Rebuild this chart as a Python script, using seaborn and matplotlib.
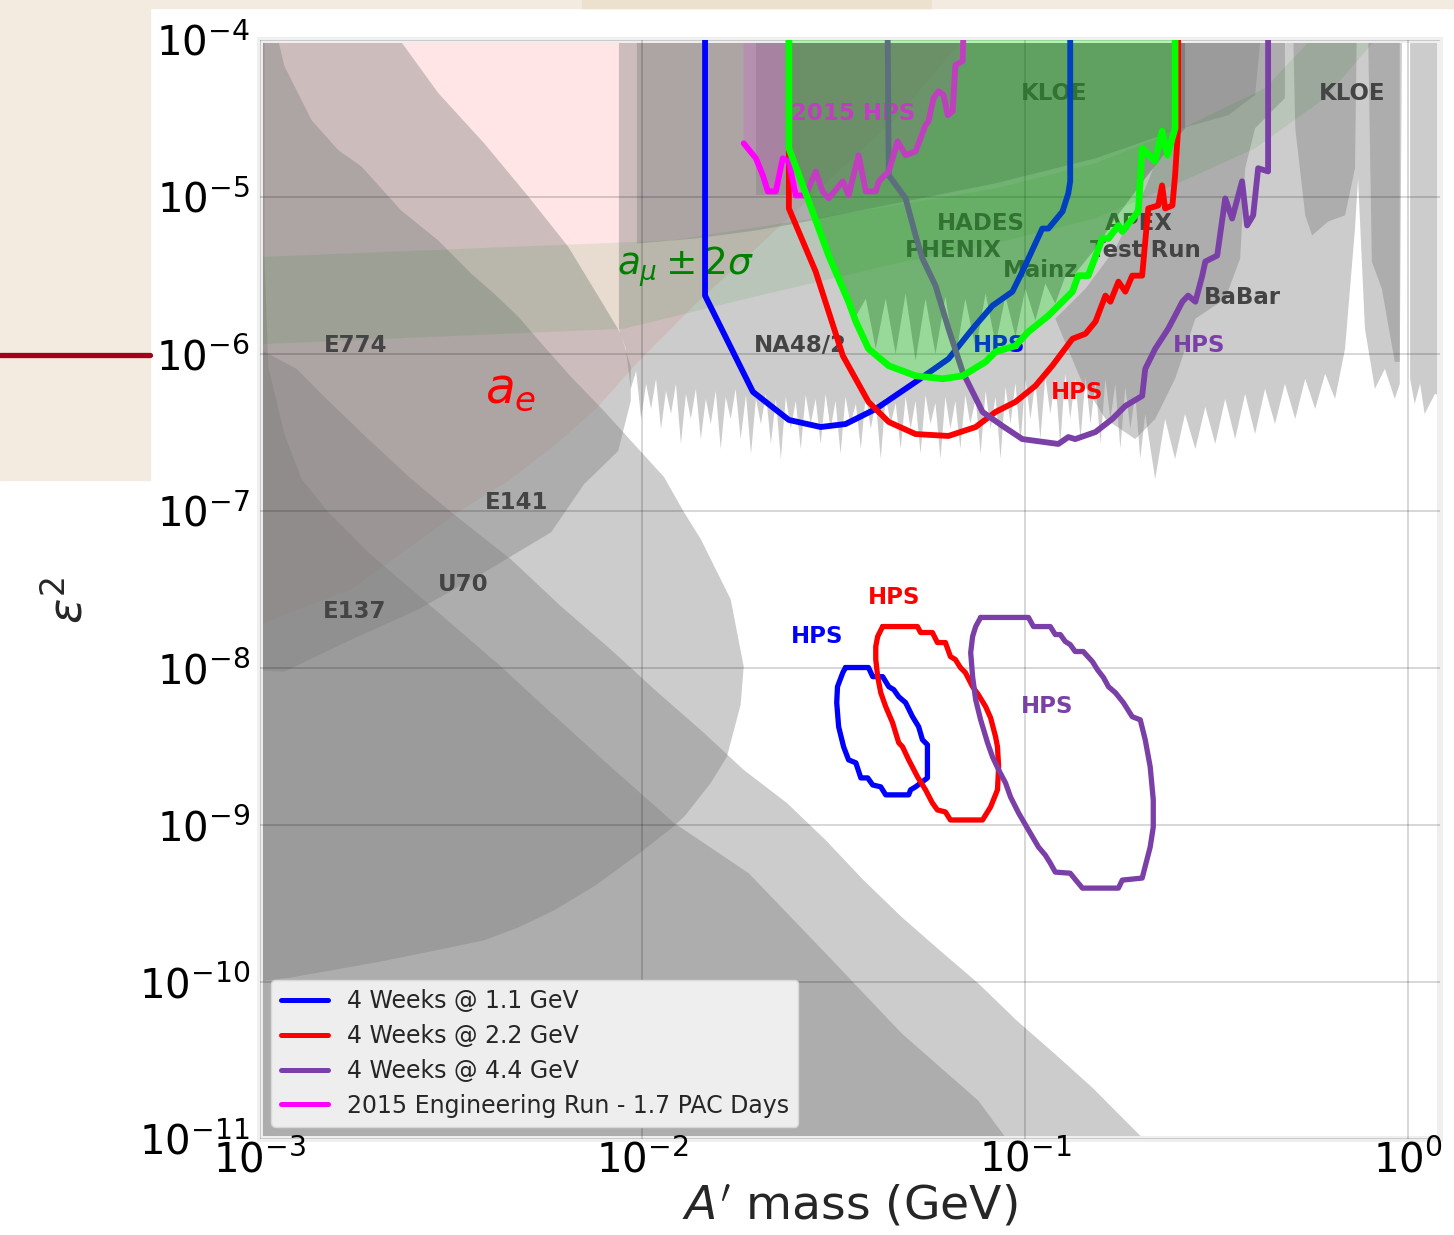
import numpy as np
import matplotlib
matplotlib.use("Agg")
import matplotlib.pyplot as plt
import seaborn as sns
from matplotlib.patches import Rectangle
from matplotlib.lines import Line2D
from matplotlib.ticker import LogLocator, NullLocator

# all values are log10(mass / GeV) and log10(eps^2)

# ---- HPS reach, 4 weeks @ 1.1 GeV (upper contour + lower island) ----
blue_m = [-1.836, -1.836, -1.711, -1.617, -1.534, -1.469, -1.390, -1.286, -1.200, -1.137,
          -1.085, -1.033, -1.007, -0.955, -0.939, -0.902, -0.887, -0.882, -0.882]
blue_e = [-3.95, -5.628, -6.241, -6.420, -6.465, -6.446, -6.350, -6.178, -6.031, -5.839,
          -5.692, -5.603, -5.475, -5.201, -5.201, -5.092, -4.977, -4.900, -3.95]
bloop_m = [-1.469, -1.409, -1.398, -1.372, -1.356, -1.343, -1.330, -1.312, -1.294, -1.278,
           -1.268, -1.255, -1.255, -1.286, -1.299, -1.304, -1.364, -1.377, -1.398, -1.411,
           -1.429, -1.442, -1.461, -1.474, -1.487, -1.492, -1.490, -1.476, -1.469]
bloop_e = [-7.997, -7.997, -8.055, -8.055, -8.119, -8.138, -8.183, -8.221, -8.310, -8.374,
           -8.457, -8.489, -8.700, -8.757, -8.776, -8.808, -8.808, -8.757, -8.745, -8.700,
           -8.700, -8.604, -8.585, -8.502, -8.374, -8.221, -8.119, -8.029, -7.997]

# ---- 4 weeks @ 2.2 GeV ----
red_m = [-1.617, -1.617, -1.547, -1.476, -1.409, -1.356, -1.286, -1.200, -1.129, -1.077,
         -1.025, -0.973, -0.929, -0.876, -0.842, -0.816, -0.790, -0.777, -0.756, -0.738,
         -0.720, -0.694, -0.686, -0.678, -0.652, -0.642, -0.634, -0.615, -0.608, -0.600, -0.600]
red_e = [-3.95, -5.073, -5.475, -6.011, -6.305, -6.433, -6.510, -6.522, -6.465, -6.369,
         -6.305, -6.203, -6.075, -5.903, -5.871, -5.794, -5.628, -5.667, -5.539, -5.603,
         -5.501, -5.501, -5.284, -5.073, -5.054, -4.926, -5.073, -5.054, -4.862, -4.562, -3.95]
rloop_m = [-1.372, -1.281, -1.273, -1.242, -1.229, -1.208, -1.195, -1.182, -1.169, -1.156,
           -1.137, -1.122, -1.103, -1.090, -1.077, -1.072, -1.069, -1.072, -1.090, -1.111,
           -1.195, -1.208, -1.229, -1.242, -1.260, -1.281, -1.304, -1.320, -1.330, -1.338,
           -1.346, -1.364, -1.377, -1.385, -1.390, -1.390, -1.385, -1.372]
rloop_e = [-7.736, -7.736, -7.774, -7.774, -7.838, -7.838, -7.927, -7.946, -7.997, -8.029,
           -8.119, -8.170, -8.246, -8.317, -8.438, -8.502, -8.630, -8.776, -8.885, -8.968,
           -8.968, -8.917, -8.904, -8.860, -8.776, -8.693, -8.585, -8.502, -8.476, -8.413,
           -8.349, -8.246, -8.157, -8.055, -7.946, -7.863, -7.799, -7.736]

# ---- 4 weeks @ 4.4 GeV ----
purple_m = [-1.359, -1.356, -1.312, -1.286, -1.268, -1.234, -1.200, -1.163, -1.111, -1.059,
            -1.007, -0.913, -0.887, -0.869, -0.816, -0.772, -0.738, -0.694, -0.686, -0.660,
            -0.626, -0.608, -0.589, -0.574, -0.555, -0.537, -0.529, -0.498, -0.477, -0.459,
            -0.433, -0.420, -0.404, -0.391, -0.365, -0.365]
purple_e = [-3.95, -4.862, -5.009, -5.245, -5.392, -5.564, -5.839, -6.114, -6.369, -6.458,
            -6.542, -6.573, -6.529, -6.542, -6.497, -6.414, -6.331, -6.267, -6.095, -5.967,
            -5.839, -5.756, -5.667, -5.628, -5.667, -5.501, -5.411, -5.373, -5.009, -5.137,
            -4.900, -5.181, -5.117, -4.817, -4.837, -3.95]
ploop_m = [-1.116, -0.991, -0.978, -0.934, -0.921, -0.908, -0.895, -0.882, -0.869, -0.848,
           -0.824, -0.811, -0.795, -0.782, -0.764, -0.743, -0.720, -0.699, -0.686, -0.673,
           -0.665, -0.665, -0.673, -0.694, -0.746, -0.756, -0.850, -0.863, -0.882, -0.921,
           -0.934, -0.947, -0.965, -0.991, -1.017, -1.038, -1.051, -1.069, -1.085, -1.098,
           -1.116, -1.129, -1.137, -1.142, -1.137, -1.129, -1.116]
ploop_e = [-7.678, -7.678, -7.736, -7.736, -7.787, -7.787, -7.831, -7.851, -7.895, -7.895,
           -7.959, -8.010, -8.061, -8.119, -8.157, -8.221, -8.310, -8.330, -8.457, -8.630,
           -8.840, -9.013, -9.140, -9.338, -9.351, -9.402, -9.402, -9.364, -9.307, -9.300,
           -9.243, -9.192, -9.140, -9.032, -8.923, -8.821, -8.732, -8.649, -8.566, -8.476,
           -8.330, -8.202, -8.055, -7.902, -7.799, -7.736, -7.678]

# ---- 2015 engineering run ----
eng_m = [-1.735, -1.703, -1.685, -1.672, -1.651, -1.633, -1.617, -1.599, -1.573, -1.547,
         -1.529, -1.513, -1.476, -1.461, -1.435, -1.416, -1.390, -1.382, -1.356, -1.333,
         -1.312, -1.286, -1.260, -1.252, -1.239, -1.226, -1.213, -1.202, -1.189, -1.182,
         -1.163, -1.161]
eng_e = [-4.658, -4.754, -4.862, -4.964, -4.964, -4.754, -4.773, -4.990, -4.990, -4.837,
         -4.964, -5.009, -4.900, -4.990, -4.734, -4.964, -4.964, -4.900, -4.837, -4.645,
         -4.734, -4.709, -4.543, -4.517, -4.370, -4.326, -4.351, -4.479, -4.453, -4.160,
         -4.134, -3.95]

# ---- green favoured region edge ----
lime_m = [-1.617, -1.617, -1.565, -1.513, -1.461, -1.442, -1.409, -1.356, -1.286, -1.215,
          -1.163, -1.103, -1.077, -1.025, -0.991, -0.939, -0.876, -0.861, -0.835, -0.798,
          -0.782, -0.756, -0.746, -0.704, -0.694, -0.660, -0.642, -0.628, -0.608, -0.608]
lime_e = [-3.95, -4.690, -5.028, -5.373, -5.667, -5.794, -5.967, -6.075, -6.139, -6.158,
          -6.139, -6.050, -5.986, -5.948, -5.858, -5.756, -5.603, -5.501, -5.501, -5.264,
          -5.264, -5.181, -5.220, -5.092, -4.690, -4.773, -4.581, -4.734, -4.562, -3.95]

# ---- existing limits (shaded) ----
ae_m = [-3.1, -2.760, -2.481, -2.343, -2.225, -2.121, -2.016, -1.860, -1.703, -1.521, -1.338, -1.129, -3.1]
ae_e = [-7.819, -7.499, -7.008, -6.797, -6.573, -6.350, -6.063, -5.679, -5.328, -4.913, -4.498, -3.9, -3.9]

amu_m = [-3.1, -1.925, -1.469, -1.077, -0.816, -0.589, -0.373, -0.216,
         -0.05, -0.216, -0.399, -0.589, -0.816, -1.077, -1.338, -1.729, -2.048, -3.1]
amu_e = [-5.392, -5.277, -5.105, -4.945, -4.785, -4.562, -4.307, -3.9,
         -3.9, -4.370, -4.690, -4.900, -5.137, -5.296, -5.424, -5.648, -5.839, -5.948]

e137_m = [-3.1, -2.987, -2.987, -2.977, -2.935, -2.890, -2.820, -2.716, -2.551, -2.369,
          -2.256, -2.082, -1.917, -1.722, -1.521, -1.322, -1.122, -1.048, -0.999, -3.1]
e137_e = [-3.9, -3.9, -5.392, -6.082, -6.510, -6.797, -7.008, -7.263, -7.608, -7.991,
          -8.246, -8.630, -8.987, -9.307, -9.817, -10.328, -10.756, -11.0, -11.14, -11.2]

u70_m = [-3.1, -2.903, -2.825, -2.716, -2.603, -2.499, -2.343, -2.212, -2.082, -1.959,
         -1.839, -1.735, -1.622, -1.521, -1.422, -1.322, -1.223, -1.122, -1.022, -0.923,
         -0.824, -0.704, -0.647, -3.1]
u70_e = [-5.839, -6.095, -6.286, -6.542, -6.797, -7.008, -7.308, -7.608, -7.883, -8.157,
         -8.413, -8.649, -8.860, -9.096, -9.351, -9.587, -9.798, -10.009, -10.245, -10.456,
         -10.673, -10.967, -11.107, -11.2]

e141_m = [-2.961, -2.935, -2.864, -2.794, -2.734, -2.630, -2.533, -2.447, -2.387, -2.324,
          -2.256, -2.186, -2.100, -2.022, -1.943, -1.891, -1.847, -1.769, -1.735, -1.743,
          -1.779, -1.821, -1.889, -1.920, -2.003, -2.121, -2.230, -2.322, -2.413, -2.538,
          -2.695, -2.917, -3.1, -3.1]
e141_e = [-3.9, -4.166, -4.511, -4.702, -4.805, -5.086, -5.277, -5.488, -5.616, -5.762,
          -5.954, -6.146, -6.363, -6.573, -6.784, -7.008, -7.180, -7.563, -7.991, -8.234,
          -8.566, -8.732, -8.943, -9.013, -9.172, -9.383, -9.543, -9.651, -9.734, -9.798,
          -9.875, -9.971, -10.028, -3.9]

e774_m = [-3.1, -2.663, -2.533, -2.413, -2.298, -2.194, -2.108, -2.056, -2.030, -2.030,
          -2.063, -2.152, -2.238, -2.413, -2.585, -2.760, -2.935, -3.1]
e774_e = [-3.9, -3.9, -4.338, -4.658, -4.996, -5.315, -5.660, -5.871, -6.082, -6.299,
          -6.618, -6.829, -7.135, -7.391, -7.627, -7.819, -8.023, -8.01]

top_m = [-2.014, -2.014, -1.860, -1.703, -1.599, -1.338, -1.077, -0.816, -0.589, -0.469, -0.399, -0.381]
top_e = [-3.9, -5.296, -5.264, -5.213, -5.169, -5.041, -4.913, -4.754, -4.562, -4.479, -4.351, -3.9]

kloe0_m = [-1.617, -1.617, -1.565, -1.513, -1.469, -1.442, -1.416, -1.390, -1.364, -1.338,
           -1.312, -1.286, -1.260, -1.234, -1.208, -1.182, -1.156, -1.129, -1.103, -1.077,
           -1.051, -1.025, -0.999, -0.973, -0.947, -0.921, -0.895, -0.869, -0.816, -0.764,
           -0.686, -0.582, -0.582]
kloe0_e = [-3.9, -4.690, -5.028, -5.373, -5.648, -5.762, -5.648, -5.967, -5.648, -6.000,
           -5.616, -6.043, -5.648, -6.000, -5.635, -6.031, -5.648, -5.967, -5.616, -5.935,
           -5.635, -5.890, -5.584, -5.788, -5.552, -5.679, -5.507, -5.488, -5.328, -5.137,
           -4.881, -4.562, -3.9]

strip_m = [-1.703, -1.703, -1.617, -1.617]
strip_e = [-3.9, -4.990, -4.990, -3.9]

apex_m = [-0.921, -0.842, -0.764, -0.686, -0.634, -0.595, -0.321, -0.321, -0.399, -0.425,
          -0.438, -0.477, -0.555, -0.608, -0.660, -0.712, -0.790, -0.855]
apex_e = [-5.775, -5.584, -5.328, -4.945, -4.626, -3.9, -3.9, -4.370, -4.562, -4.817,
          -5.392, -5.648, -5.775, -6.158, -6.414, -6.542, -6.414, -6.158]

kloe1_m = [-0.300, -0.294, -0.268, -0.250, -0.208, -0.164, -0.138, -0.133]
kloe1_e = [-3.9, -4.562, -5.117, -5.245, -5.156, -5.117, -4.817, -3.9]
kloe2_m = [-0.104, -0.094, -0.068, -0.034, -0.021, -0.015]
kloe2_e = [-3.9, -5.411, -5.584, -6.050, -6.050, -3.9]

# NA48/2 spiky lower edge (left part) and BaBar edge (right part)
na48_m = [-2.043, -2.030, -2.016, -2.003, -1.990, -1.977, -1.964, -1.951, -1.938, -1.925,
          -1.912, -1.899, -1.886, -1.873, -1.860, -1.847, -1.834, -1.821, -1.808, -1.795,
          -1.782, -1.769, -1.756, -1.743, -1.729, -1.716, -1.703, -1.690, -1.677, -1.664,
          -1.651, -1.638, -1.625, -1.612, -1.599, -1.586, -1.573, -1.560, -1.547, -1.534,
          -1.521, -1.508, -1.495, -1.482, -1.469, -1.456, -1.442, -1.429, -1.416, -1.403,
          -1.390, -1.377, -1.364, -1.351, -1.338, -1.325, -1.312, -1.299, -1.286, -1.273,
          -1.260, -1.247, -1.234, -1.221, -1.208, -1.195, -1.182, -1.169, -1.156, -1.143,
          -1.129, -1.116, -1.103, -1.090, -1.077, -1.064, -1.051, -1.038, -1.025, -1.012,
          -0.999, -0.986, -0.973, -0.960, -0.947, -0.934, -0.921, -0.908, -0.895, -0.882,
          -0.869, -0.855, -0.842, -0.829, -0.816, -0.803, -0.790, -0.777, -0.764, -0.751,
          -0.738, -0.725, -0.712, -0.699, -0.686]
na48_e = [-5.967, -6.222, -6.107, -6.414, -6.190, -6.350, -6.158, -6.478, -6.235, -6.382,
          -6.190, -6.573, -6.254, -6.414, -6.222, -6.542, -6.286, -6.446, -6.235, -6.605,
          -6.273, -6.414, -6.222, -6.542, -6.261, -6.637, -6.286, -6.446, -6.254, -6.573,
          -6.286, -6.669, -6.273, -6.478, -6.299, -6.605, -6.261, -6.446, -6.286, -6.573,
          -6.254, -6.478, -6.299, -6.637, -6.273, -6.446, -6.318, -6.605, -6.261, -6.478,
          -6.299, -6.669, -6.273, -6.446, -6.312, -6.605, -6.273, -6.478, -6.299, -6.637,
          -6.261, -6.446, -6.312, -6.669, -6.273, -6.478, -6.299, -6.605, -6.261, -6.446,
          -6.286, -6.637, -6.235, -6.478, -6.273, -6.669, -6.209, -6.446, -6.184, -6.573,
          -6.158, -6.414, -6.171, -6.542, -6.146, -6.382, -6.158, -6.573, -6.126, -6.414,
          -6.158, -6.542, -6.146, -6.446, -6.171, -6.573, -6.158, -6.414, -6.190, -6.605,
          -6.209, -6.478, -6.254, -6.669, -6.382]
babar_m = [-0.660, -0.634, -0.608, -0.582, -0.555, -0.529, -0.503, -0.477, -0.451, -0.425,
           -0.399, -0.373, -0.347, -0.321, -0.294, -0.268, -0.242, -0.216, -0.190, -0.164,
           -0.138, -0.130, -0.112, -0.086, -0.060, -0.034, -0.021, -0.021]
babar_e = [-6.797, -6.414, -6.669, -6.382, -6.605, -6.337, -6.573, -6.286, -6.542, -6.254,
           -6.510, -6.222, -6.446, -6.190, -6.414, -6.158, -6.350, -6.126, -6.286, -5.967,
           -5.201, -4.881, -5.839, -6.222, -6.095, -6.286, -6.190, -3.9]
spiky2_m = [0.006, 0.006, 0.018, 0.032, 0.044, 0.071, 0.12, 0.12]
spiky2_e = [-3.9, -6.158, -6.318, -6.190, -6.382, -6.254, -6.30, -3.9]

# ---- labels ----
gray_txt = ["E774", "E141", "U70", "E137", "NA48/2", "KLOE", "APEX", "Test Run", "BaBar",
            "KLOE", "HADES", "PHENIX", "Mainz"]
gray_txt_m = [-2.750, -2.327, -2.468, -2.752, -1.586, -0.146, -0.704, -0.686, -0.433,
              -0.923, -1.116, -1.187, -0.960]
gray_txt_e = [-5.948, -6.944, -7.467, -7.640, -5.948, -4.338, -5.169, -5.341, -5.641,
              -4.338, -5.169, -5.341, -5.469]
hps_txt_m = [-1.069, -0.545, -0.863, -1.341, -1.544, -0.942]
hps_txt_e = [-5.948, -5.948, -6.248, -7.551, -7.800, -8.246]
hps_txt_c = ["#0000ff", "#7b3fa8", "red", "red", "blue", "#7b3fa8"]

legend_labels = ["4 Weeks @ 1.1 GeV", "4 Weeks @ 2.2 GeV", "4 Weeks @ 4.4 GeV",
                 "2015 Engineering Run - 1.7 PAC Days"]

BLUE, RED, PURPLE, MAG, LIME = "#0000ff", "#ff0000", "#7b3fa8", "#ff00ff", "#00ff00"

sns.set_theme(style="whitegrid")
plt.rcParams['font.family'] = ['DejaVu Sans']
plt.rcParams['mathtext.fontset'] = 'dejavusans'

fig = plt.figure(figsize=(14.54, 12.35), dpi=100)
fig.patch.set_facecolor('white')
# slide background showing around the picture
fig.patches.append(Rectangle((0, 1 - 8 / 1235), 1, 8 / 1235, transform=fig.transFigure,
                             color='#f3ebdf', zorder=-5))
fig.patches.append(Rectangle((0.40, 1 - 8 / 1235), 0.24, 8 / 1235, transform=fig.transFigure,
                             color='#ebe1cc', zorder=-4))
fig.patches.append(Rectangle((0, 1 - 480 / 1235), 150 / 1454, 480 / 1235, transform=fig.transFigure,
                             color='#f3ebdf', zorder=-5))
fig.lines.append(Line2D([0, 150 / 1454], [1 - 355 / 1235] * 2, transform=fig.transFigure,
                        color='#a3001e', lw=3.8))

ax = fig.add_axes([259.5 / 1454, 1 - 1139 / 1235, 1180 / 1454, 1099 / 1235])
ax.set_facecolor('white')
ax.set_xscale('log')
ax.set_yscale('log')
ax.set_xlim(1e-3, 1.21)
ax.set_ylim(1e-11, 1e-4)


def L(v):
    return 10 ** np.asarray(v, dtype=float)


def shade(m, e, color='#808080', alpha=0.4, z=1):
    ax.fill(L(m), L(e), color=color, alpha=alpha, lw=0, zorder=z)


def curve(m, e, color, lw=4.2, z=3):
    sns.lineplot(x=L(m), y=L(e), sort=False, estimator=None, color=color,
                 linewidth=lw, ax=ax, zorder=z, legend=False)


# shaded limits
shade(ae_m, ae_e, color='red', alpha=0.1)
shade(e137_m, e137_e)
shade(u70_m, u70_e)
shade(e141_m, e141_e)
shade(e774_m, e774_e)
shade([-2.061, -2.061] + na48_m + babar_m, [-3.9, -5.839] + na48_e + babar_e)
shade(spiky2_m, spiky2_e)
shade(top_m, top_e)
shade(strip_m, strip_e)
shade(kloe0_m, kloe0_e, color='black', alpha=0.25)
shade(apex_m, apex_e)
shade(kloe1_m, kloe1_e)
shade(kloe2_m, kloe2_e)
shade(amu_m, amu_e, color='green', alpha=0.09)
shade(eng_m + [-1.735], eng_e + [-3.9], color=MAG, alpha=0.12, z=1.5)

# labels sit under the curves and under the green overlay
tkw = dict(ha='center', va='center', fontsize=16.5, fontweight='bold', zorder=2.8)
for t, m, e in zip(gray_txt, gray_txt_m, gray_txt_e):
    ax.text(10 ** m, 10 ** e, t, color='#444444', **tkw)
for m, e, c in zip(hps_txt_m, hps_txt_e, hps_txt_c):
    ax.text(10 ** m, 10 ** e, "HPS", color=c, **tkw)
ax.text(10 ** -1.448, 10 ** -4.466, "2015 HPS", color=MAG, **tkw)
ax.text(10 ** -2.345, 10 ** -6.222, r"$a_e$", color='red', fontsize=35,
        ha='center', va='center', zorder=2.8)
ax.text(10 ** -1.886, 10 ** -5.443, r"$a_\mu \pm 2\sigma$", color='green', fontsize=27,
        ha='center', va='center', zorder=2.8)

# HPS reach curves
curve(blue_m, blue_e, BLUE)
curve(bloop_m, bloop_e, BLUE, lw=3.8)
curve(red_m, red_e, RED)
curve(rloop_m, rloop_e, RED, lw=3.8)
curve(purple_m, purple_e, PURPLE)
curve(ploop_m, ploop_e, PURPLE, lw=3.8)
curve(eng_m, eng_e, MAG)

# green region laid over the curves, then its bright edge
shade(lime_m, lime_e, color=LIME, alpha=0.25, z=4)
curve(lime_m, lime_e, LIME, lw=4.8, z=5)

# axes cosmetics
ax.xaxis.set_major_locator(LogLocator(base=10, numticks=20))
ax.yaxis.set_major_locator(LogLocator(base=10, numticks=20))
ax.xaxis.set_minor_locator(NullLocator())
ax.yaxis.set_minor_locator(NullLocator())
ax.set_axisbelow(False)
ax.grid(True, which='major', color='black', alpha=0.2, linewidth=1.1)
for sp in ax.spines.values():
    sp.set_color('#efefef')
    sp.set_linewidth(4.3)
ax.tick_params(axis='both', which='both', length=0, labelsize=29, colors='black')
ax.tick_params(axis='y', pad=7)
ax.tick_params(axis='x', pad=1)
ax.set_xlabel(r"$A'$ mass (GeV)", fontsize=34, labelpad=2)
ax.set_ylabel(r"$\epsilon^2$", fontsize=34)
ax.yaxis.set_label_coords(-0.142, 0.49)

handles = [Line2D([], [], color=c, lw=3.6) for c in (BLUE, RED, PURPLE, MAG)]
leg = ax.legend(handles, legend_labels, loc='lower left', fontsize=17, frameon=True,
                facecolor='#eeeeee', edgecolor='#d8d8d8', framealpha=1.0, fancybox=True,
                labelspacing=0.46, handlelength=2.0, handletextpad=0.8, borderpad=0.4)
leg.set_zorder(10)

fig.savefig("out.png", dpi=100)
